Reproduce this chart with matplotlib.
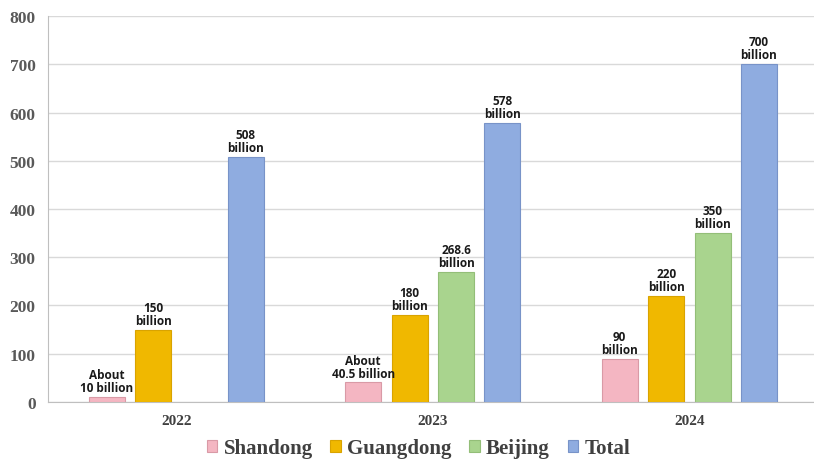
import numpy as np
import matplotlib.pyplot as plt

years = ["2022", "2023", "2024"]
series = ["Shandong", "Guangdong", "Beijing", "Total"]
shandong = [10, 40.5, 90]
guangdong = [150, 180, 220]
beijing = [np.nan, 268.6, 350]
total = [508, 578, 700]
labels = [
    ["About\n10 billion", "About\n40.5 billion", "90\nbillion"],
    ["150\nbillion", "180\nbillion", "220\nbillion"],
    ["", "268.6\nbillion", "350\nbillion"],
    ["508\nbillion", "578\nbillion", "700\nbillion"],
]
yticks = [0, 100, 200, 300, 400, 500, 600, 700, 800]

colors = ["#F4B6C2", "#F0B800", "#A9D48E", "#8FACE0"]
edges = ["#D99AA6", "#D9A300", "#93BE78", "#7893C8"]

fig = plt.figure(figsize=(8.14, 4.6), dpi=100)
ax = fig.add_axes([0.059, 0.124, 0.941, 0.839])

x = np.arange(len(years))
step = 0.181
width = 0.14
values = [shandong, guangdong, beijing, total]

for i, (name, vals) in enumerate(zip(series, values)):
    pos = x + (i - 1.5) * step
    ax.bar(pos, vals, width, color=colors[i], edgecolor=edges[i],
           linewidth=0.8, label=name, zorder=3)
    for xp, v, lab in zip(pos, vals, labels[i]):
        if np.isnan(v) or not lab:
            continue
        ax.text(xp, v + 6, lab, ha="center", va="bottom", fontsize=8.5,
                fontweight="bold", family="Open Sans", color="#1a1a1a",
                linespacing=1.0, zorder=4)

ax.set_xlim(-0.5, 2.486)
ax.set_ylim(0, 800)
ax.set_yticks(yticks)
ax.set_xticks(x)
ax.set_xticklabels(years)
ax.grid(axis="y", color="#D9D9D9", linewidth=1, zorder=0)
ax.tick_params(axis="both", length=0)
ax.tick_params(axis="y", pad=9)
ax.tick_params(axis="x", pad=9)
for t in ax.get_yticklabels():
    t.set_fontfamily("Liberation Serif")
    t.set_fontweight("bold")
    t.set_fontsize(12.5)
    t.set_color("#595959")
for t in ax.get_xticklabels():
    t.set_fontfamily("Liberation Serif")
    t.set_fontweight("bold")
    t.set_fontsize(11)
    t.set_color("#404040")

for s in ["top", "right"]:
    ax.spines[s].set_visible(False)
ax.spines["left"].set_color("#BFBFBF")
ax.spines["bottom"].set_color("#BFBFBF")

leg = fig.legend(loc="center", bbox_to_anchor=(0.514, 0.024), ncol=4,
                 frameon=False, handlelength=0.5, handleheight=0.5,
                 handletextpad=0.3, columnspacing=0.85,
                 prop={"family": "Liberation Serif", "weight": "bold", "size": 15})
for t in leg.get_texts():
    t.set_color("#404040")

plt.savefig("out.png", dpi=100)
